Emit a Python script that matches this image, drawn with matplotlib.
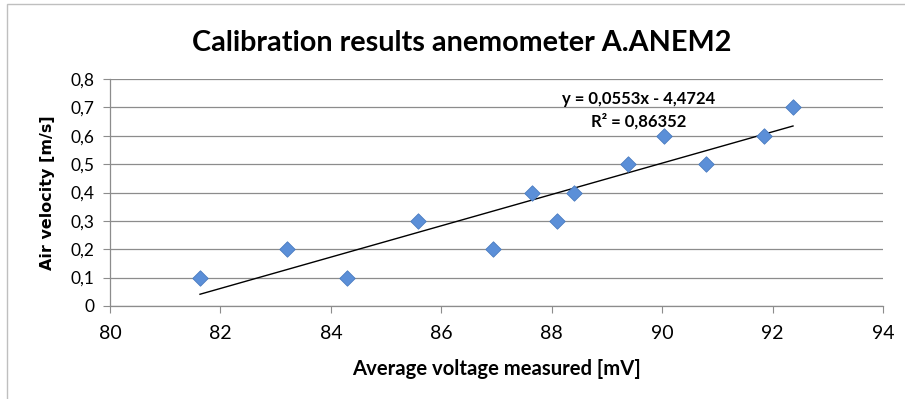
import numpy as np
import matplotlib
matplotlib.use("Agg")
import matplotlib.pyplot as plt
from matplotlib.ticker import FuncFormatter, MultipleLocator
from matplotlib.patches import Rectangle

voltage = [81.63, 83.21, 84.29, 85.57, 86.93, 87.64, 88.09, 88.40, 89.38, 90.04, 90.80, 91.84, 92.37]
velocity = [0.1, 0.2, 0.1, 0.3, 0.2, 0.4, 0.3, 0.4, 0.5, 0.6, 0.5, 0.6, 0.7]
title = "Calibration results anemometer A.ANEM2"
xlabel = "Average voltage measured [mV]"
ylabel = "Air velocity [m/s]"
eq_text = "y = 0,0553x - 4,4724"
r2_text = "R² = 0,86352"

plt.rcParams['font.family'] = ['Lato', 'DejaVu Sans']

fig = plt.figure(figsize=(9.05, 3.99), dpi=100)
fig.patches.append(Rectangle((7/905, -0.1), 1.0, 1 - 4/399 + 0.1, transform=fig.transFigure,
                             fill=False, edgecolor='#bfbfbf', linewidth=1.0))
ax = fig.add_axes([110/905, 1 - 306/399, (883 - 110)/905, (306 - 79)/399])

ax.set_xlim(80, 94)
ax.set_ylim(0, 0.8)
ax.xaxis.set_major_locator(MultipleLocator(2))
ax.yaxis.set_major_locator(MultipleLocator(0.1))
ax.yaxis.set_major_formatter(FuncFormatter(lambda v, p: ("%.1f" % v).replace('.', ',') if v != 0 else "0"))
ax.grid(axis='y', color='#8c8c8c', linewidth=0.9)
ax.set_axisbelow(True)
for s in ['top', 'right']:
    ax.spines[s].set_visible(False)
for s in ['left', 'bottom']:
    ax.spines[s].set_color('#8c8c8c')
    ax.spines[s].set_linewidth(0.9)
ax.tick_params(axis='both', direction='out', length=5, color='#8c8c8c', labelcolor='black')
ax.tick_params(axis='x', pad=9, labelsize=14)
ax.tick_params(axis='y', pad=6, labelsize=12.5)

ax.scatter(voltage, velocity, marker='D', s=62, color='#5b8fd8', edgecolor='#4a7cc0', linewidth=0.6, zorder=3)

xv = np.array(voltage)
slope, intercept = np.polyfit(xv, np.array(velocity), 1)
xs = np.array([xv.min(), xv.max()])
ax.plot(xs, slope * xs + intercept, color='black', linewidth=1.0, zorder=2)

ax.text(89.57, 0.729, eq_text, ha='center', va='center', fontsize=12, fontweight='bold')
ax.text(89.57, 0.652, r2_text, ha='center', va='center', fontsize=12, fontweight='bold')

fig.text(462/905, 1 - 43/399, title, ha='center', va='center', fontsize=20.7, fontweight='bold')
ax.set_xlabel(xlabel, fontsize=14.6, fontweight='bold', labelpad=12)
ax.set_ylabel(ylabel, fontsize=11.5, fontweight='bold', labelpad=11, family=['DejaVu Sans'])

fig.savefig("out.png", dpi=100)
